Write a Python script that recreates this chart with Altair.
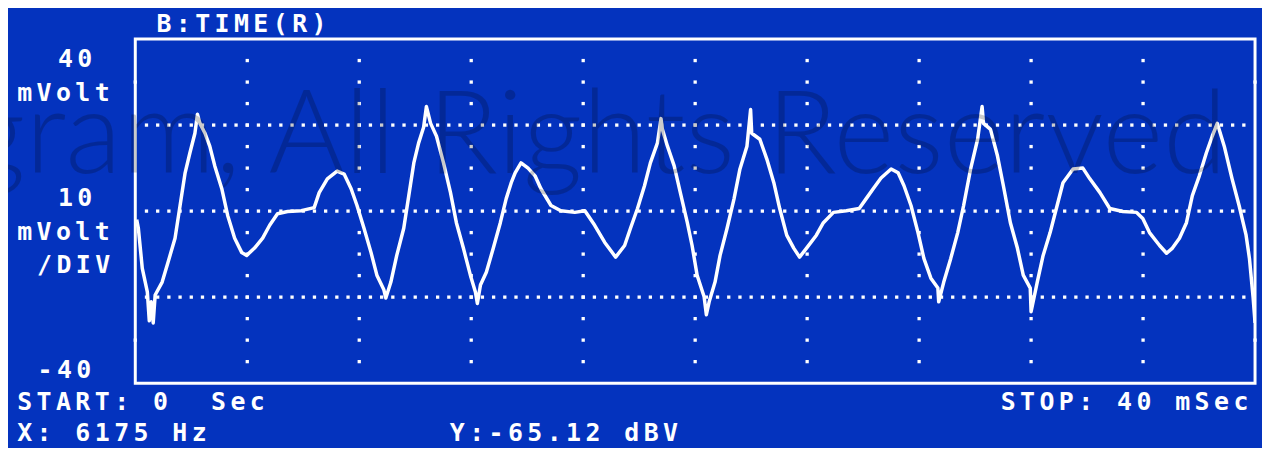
import altair as alt
import pandas as pd

# ---------------- trace (time in ms, voltage in mV) ----------------
time_ms = [0.05, 0.11, 0.25, 0.43, 0.50, 0.57, 0.64, 0.71, 0.96, 1.17, 1.42, 1.60, 1.78, 1.95, 2.13,
           2.22, 2.31, 2.49, 2.66, 2.84, 3.09, 3.30, 3.55, 3.80, 3.98, 4.26, 4.55, 4.80, 5.08, 5.44,
           5.93, 6.39, 6.57, 6.86, 7.21, 7.46, 7.71, 7.92, 8.17, 8.42, 8.63, 8.88, 8.95, 9.13, 9.34,
           9.59, 9.77, 9.95, 10.12, 10.30, 10.40, 10.55, 10.76, 11.01, 11.26, 11.47, 11.72, 11.97,
           12.15, 12.22, 12.33, 12.54, 12.79, 13.04, 13.25, 13.43, 13.57, 13.78, 14.03, 14.28, 14.49,
           14.85, 15.20, 15.70, 16.06, 16.41, 16.77, 17.16, 17.48, 17.69, 17.94, 18.19, 18.40, 18.65,
           18.78, 18.83, 19.01, 19.25, 19.47, 19.72, 19.89, 20.07, 20.32, 20.40, 20.50, 20.71, 20.89,
           21.14, 21.39, 21.60, 21.85, 21.98, 22.02, 22.31, 22.56, 22.81, 23.02, 23.27, 23.52, 23.73,
           23.98, 24.33, 24.58, 24.94, 25.40, 25.86, 26.11, 26.36, 26.64, 27.00, 27.25, 27.46, 27.71,
           27.96, 28.17, 28.42, 28.67, 28.70, 28.88, 29.13, 29.38, 29.59, 29.84, 30.09, 30.25, 30.30,
           30.55, 30.80, 31.01, 31.26, 31.51, 31.72, 31.97, 32.00, 32.22, 32.43, 32.68, 32.93, 33.14,
           33.50, 33.85, 34.10, 34.46, 34.81, 35.28, 35.77, 35.99, 36.23, 36.59, 36.84, 37.05, 37.30,
           37.55, 37.76, 38.01, 38.26, 38.47, 38.65, 38.90, 39.18, 39.43, 39.68, 39.80, 39.93, 40.00]
volt_mv = [-2.0, -4.0, -13.3, -18.8, -25.5, -21.1, -26.0, -19.5, -16.5, -11.9, -6.3, 1.3, 8.9, 13.5, 18.1,
           22.5, 20.4, 18.1, 15.1, 10.5, 5.2, -1.0, -6.3, -9.6, -10.3, -8.6, -6.3, -3.3, -0.6, -0.1,
           0.1, 0.8, 4.3, 7.5, 9.3, 8.6, 5.2, 1.3, -4.0, -9.6, -14.9, -18.3, -20.2, -16.5, -10.3,
           -4.0, 3.6, 11.2, 15.8, 19.5, 24.3, 20.4, 17.4, 11.2, 4.3, -2.7, -8.6, -14.9,
           -18.8, -21.5, -17.2, -14.2, -8.6, -2.7, 2.9, 6.6, 8.9, 11.2, 10.0, 8.2, 5.2,
           1.3, 0.1, -0.3, 0.1, -3.3, -7.3, -10.7, -8.0, -4.0, 0.6, 5.9, 11.2, 15.8,
           21.5, 19.0, 15.1, 10.5, 4.3, -2.7, -8.0, -14.9, -19.9, -24.1, -21.1, -16.5, -10.3,
           -4.0, 2.9, 9.8, 15.1, 23.6, 18.1, 16.7, 12.1, 6.6, 0.6, -5.6, -8.6, -10.7,
           -8.6, -5.6, -2.7, -0.3, 0.1, 0.6, 2.9, 5.2, 7.7, 9.8, 8.9, 5.9, 1.3,
           -5.0, -11.0, -15.6, -17.9, -21.1, -16.5, -11.0, -5.0, 1.3, 9.8, 16.7, 24.3, 20.4,
           19.0, 12.8, 5.9, -2.7, -8.6, -14.9, -17.9, -23.4, -16.5, -10.3, -5.0, 1.3, 6.6,
           9.8, 10.0, 7.5, 4.3, 0.6, -0.1, -0.3, -1.7, -5.0, -8.0, -9.8, -8.6, -6.3,
           -2.7, 3.6, 8.2, 13.5, 17.4, 20.4, 15.1, 7.5, 1.3, -5.6, -11.0, -20.0, -26.0]

# ---------------- graticule ----------------
x_div_ms = [4, 8, 12, 16, 20, 24, 28, 32, 36]
y_major_mv = [-20, 0, 20]
y_minor_mv = [-35, -30, -25, -20, -15, -10, -5, 0, 5, 10, 15, 20, 25, 30, 35]
edge_tick_mv = [-30, 30]

# ---------------- screen texts (character-cell display) ----------------
label_text = ["B:TIME(R)", "40", "mVolt", "10", "mVolt", "/DIV", "-40",
              "START: 0  Sec", "X: 6175 Hz", "Y:-65.12 dBV", "STOP: 40 mSec"]
label_left = [19, -80, -121, -80, -121, -101, -100.5, -121, -121, 314, 868]
label_mid = [-17, 19, 53, 158, 193, 226, 331, 364, 395, 395, 364]
CELL = 19.5

watermark = "gram, All Rights Reserved"

BLUE = "#0433be"

trace_df = pd.DataFrame({"t": time_ms, "v": volt_mv, "i": range(len(time_ms))})

dots = []
for lv in y_major_mv:
    for k in range(1, 100):
        dots.append({"t": k * 0.4, "v": lv})
for tx in x_div_ms:
    for lv in y_minor_mv:
        dots.append({"t": tx, "v": lv})
for tx in [0, 40]:
    for lv in edge_tick_mv:
        dots.append({"t": tx, "v": lv})
dots_df = pd.DataFrame(dots)

chars = []
for s, x0, ym in zip(label_text, label_left, label_mid):
    for i, ch in enumerate(s):
        if ch != " ":
            chars.append({"ch": ch, "px": x0 + i * CELL + CELL / 2, "py": ym + 1.5})
chars_df = pd.DataFrame(chars)

xs = alt.Scale(domain=[0, 40], nice=False, zero=False)
ys = alt.Scale(domain=[-40, 40], nice=False, zero=False)

grid = alt.Chart(dots_df).mark_square(size=11, color="white", opacity=1).encode(
    x=alt.X("t:Q", scale=xs, axis=None),
    y=alt.Y("v:Q", scale=ys, axis=None),
)

trace = alt.Chart(trace_df).mark_line(color="white", strokeWidth=3.5, clip=True,
                                      strokeJoin="round").encode(
    x=alt.X("t:Q", scale=xs, axis=None),
    y=alt.Y("v:Q", scale=ys, axis=None),
    order="i:Q",
)

texts = alt.Chart(chars_df).mark_text(
    font="DejaVu Sans Mono", fontWeight="bold", fontSize=25, color="white",
    align="center", baseline="middle",
).encode(
    x=alt.X("px:Q", scale=None, axis=None),
    y=alt.Y("py:Q", scale=None, axis=None),
    text="ch:N",
)

wm = alt.Chart(pd.DataFrame({"w": [watermark]})).mark_text(
    font="Lato", fontWeight=300, fontSize=117, color="black", opacity=0.2,
    align="right", baseline="alphabetic",
).encode(
    x=alt.value(1098), y=alt.value(135), text="w:N",
)

chart = alt.layer(grid, trace, texts, wm).properties(
    width=1126, height=346,
    autosize="none",
    padding={"left": 128, "top": 30, "right": 7, "bottom": 64},
    background=BLUE,
).configure_view(stroke="white", strokeWidth=3, fill=BLUE)

chart.save("out.html", embed_options={"renderer": "svg", "actions": False})
